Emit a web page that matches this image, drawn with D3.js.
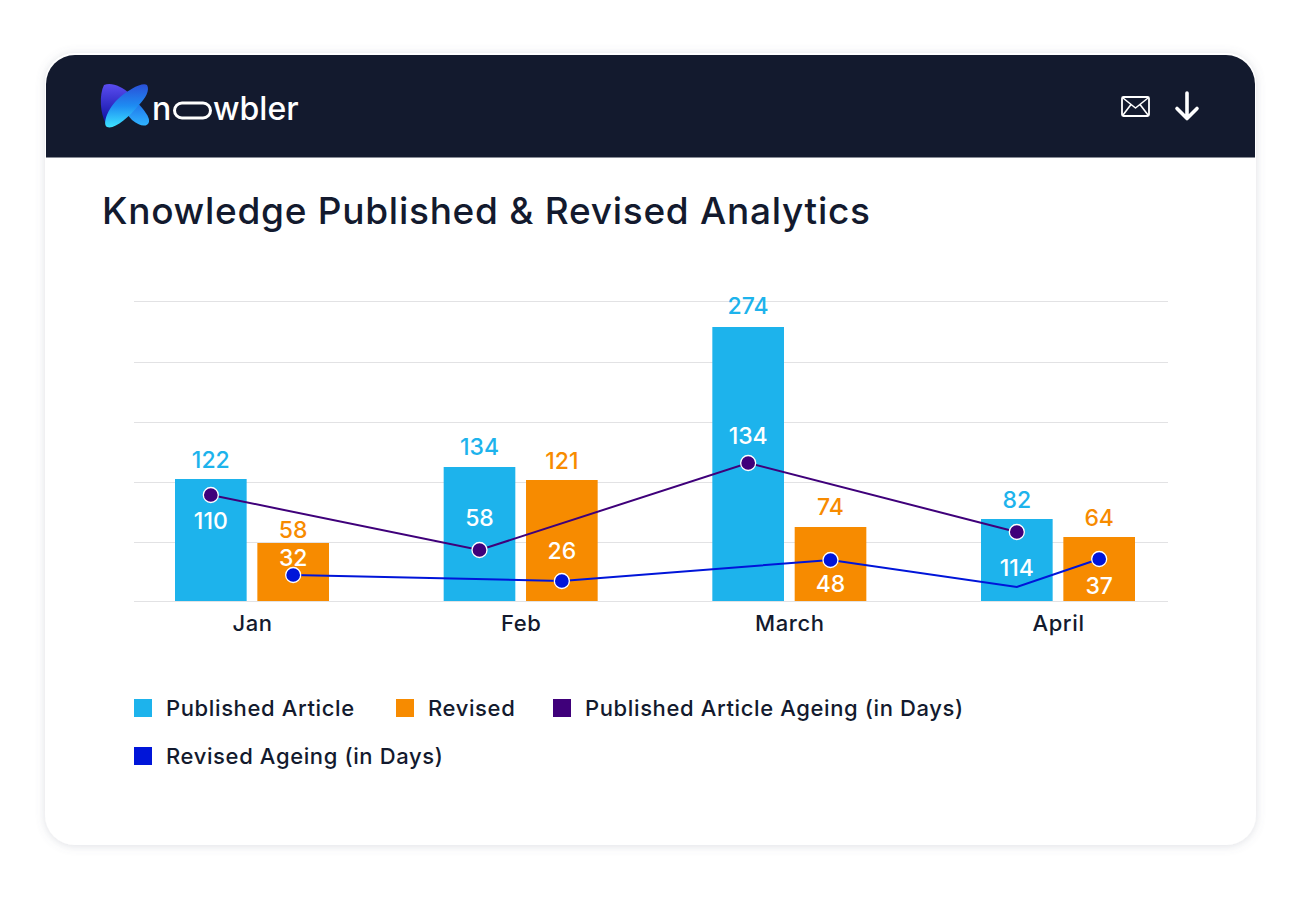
<!DOCTYPE html>
<html>
<head>
<meta charset="utf-8">
<title>Knowledge Published &amp; Revised Analytics</title>
<script src="https://cdn.jsdelivr.net/npm/d3@7"></script>
<style>
	html, body { margin: 0; padding: 0; background: #fff; }
	svg { display: block; }
	text { font-family: Inter, "Open Sans", sans-serif; }
</style>
</head>
<body>
<svg id="chart" width="1300" height="900"></svg>
<script>
var months = ["Jan", "Feb", "March", "April"];
var series = ["Published Article", "Revised"];
var published = [122, 134, 274, 82];
var revised = [58, 121, 74, 64];

// The printed ageing labels do not agree with where the points sit, so both are kept
var publishedAgeingLabels = [110, 58, 134, 114];
var publishedAgeingPoints = [106, 51, 138, 69];
var revisedAgeingLabels = [32, 26, 48, 37];
var revisedAgeingPoints = [26, 20, 41, 42];

// The blue line has one extra unmarked vertex, over the April published bar
var revisedTraceMonths = ["Jan", "Feb", "March", "April", "April"];
var revisedTraceSeries = ["Revised", "Revised", "Revised", "Published Article", "Revised"];
var revisedTraceValues = [26, 20, 41, 14, 42];

var gridTicks = [0, 59, 119, 179, 239, 300];
var legendNames = ["Published Article", "Revised", "Published Article Ageing (in Days)", "Revised Ageing (in Days)"];

var BLUE = "#1db3ec";
var ORANGE = "#f78b00";
var PURPLE = "#3f007a";
var ROYAL = "#0015d9";
var INK = "#131a2e";

// Label offsets from the ageing points, above or below
var publishedShift = [26, -32, -27, 36];
var revisedShift = [-17, -30, 24, 27];

// Gap between a bar top and the baseline of its value
var publishedGap = [11.5, 12.5, 13, 11.5];
var revisedGap = [5.5, 11.5, 12.5, 11.5];

var svg = d3.select("#chart");
var defs = svg.append("defs");

var shadow = defs.append("filter").attr("id", "cardShadow").attr("x", "-5%").attr("y", "-5%").attr("width", "110%").attr("height", "110%");
shadow.append("feDropShadow").attr("dx", 0).attr("dy", 1).attr("stdDeviation", 5).attr("flood-color", "#6a6f85").attr("flood-opacity", 0.22);

defs.append("clipPath").attr("id", "cardClip").append("rect")
	.attr("x", 46).attr("y", 55).attr("width", 1209).attr("height", 790).attr("rx", 29);

function gradient(id, stops) {
	var g = defs.append("linearGradient").attr("id", id).attr("x1", 0).attr("y1", 0).attr("x2", 0).attr("y2", 1);
	stops.forEach(function(s) {
		g.append("stop").attr("offset", s[0]).attr("stop-color", s[1]);
	});
}
gradient("lobeLeft", [[0, "#5a4cf0"], [1, "#0a0f9e"]]);
gradient("lobeRight", [[0, "#1f6fe8"], [1, "#2fb4ff"]]);
gradient("petalFront", [[0, "#2a50d8"], [0.5, "#1e8cf2"], [1, "#3de4ff"]]);

// Card and header
svg.append("rect")
	.attr("x", 45).attr("y", 53).attr("width", 1211).attr("height", 792).attr("rx", 30)
	.attr("fill", "#fff").attr("filter", "url(#cardShadow)");
svg.append("g").attr("clip-path", "url(#cardClip)").append("rect")
	.attr("x", 46).attr("y", 55).attr("width", 1209).attr("height", 102.5).attr("fill", INK);

// Logo
var logo = svg.append("g");
logo.append("path")
	.attr("d", "M104 85 C112 82 122 87 129 93 L106 124 C100 113 99 95 104 85Z")
	.attr("fill", "url(#lobeLeft)");
logo.append("path")
	.attr("d", "M125 112 L137 102 C144 110 150 117 149 122 C147 128 139 126 132 120Z")
	.attr("fill", "url(#lobeRight)");
logo.append("path")
	.attr("d", "M147 85 C150 90 146 98 138 106 C128 118 114 130 107 127 C102 124 108 108 118 99 C128 90 142 82 147 85Z")
	.attr("fill", "url(#petalFront)");

// Wordmark: the "o" is a long pill in the logo, so the glyph only holds its place in the text
var word = logo.append("text")
	.attr("y", 119.5)
	.attr("font-size", 32).attr("font-weight", 500).attr("fill", "#fff");
word.append("tspan").attr("x", 152).text("n");
word.append("tspan").attr("fill-opacity", 0).text("o");
word.append("tspan").attr("x", 213).text("wbler");
logo.append("rect")
	.attr("x", 174.5).attr("y", 103).attr("width", 36).attr("height", 15).attr("rx", 7.5)
	.attr("fill", "none").attr("stroke", "#fff").attr("stroke-width", 3);

// Header icons
var icons = svg.append("g").attr("fill", "none").attr("stroke", "#fff").attr("stroke-linejoin", "round").attr("stroke-linecap", "round");
icons.append("rect").attr("x", 1122).attr("y", 97).attr("width", 27).attr("height", 19).attr("rx", 1.5).attr("stroke-width", 1.8);
icons.append("path").attr("d", "M1123 98 L1135.5 108 L1148 98 M1123 115 L1131 104.5 M1148 115 L1140 104.5").attr("stroke-width", 1.6);
icons.append("path").attr("d", "M1187 93 V118.5 M1177 108.5 L1187 118.5 L1197 108.5").attr("stroke-width", 3.6);

// Title
svg.append("text")
	.attr("x", 102).attr("y", 224)
	.attr("font-size", 37).attr("font-weight", 500).attr("fill", INK)
	.attr("textLength", 768).attr("lengthAdjust", "spacing")
	.text("Knowledge Published & Revised Analytics");

// Scales
var y = d3.scaleLinear().domain([0, 300]).range([601, 301]);
var x = d3.scalePoint().domain(months).range([252, 1058]);
var xInner = d3.scaleBand().domain(series).range([-77, 77]).paddingInner(10 / 77);

function barCentre(month, name) {
	return x(month) + xInner(name) + xInner.bandwidth() / 2;
}

// Grid
var grid = svg.append("g")
	.attr("transform", "translate(134,0)")
	.call(d3.axisLeft(y).tickValues(gridTicks).tickSize(-1034).tickFormat(""));
grid.select(".domain").remove();
grid.selectAll("line").attr("stroke", "#e2e2e4").attr("stroke-width", 1.2);

// Month labels
var xAxis = svg.append("g")
	.attr("transform", "translate(0,601)")
	.call(d3.axisBottom(x).tickSize(0).tickPadding(14));
xAxis.select(".domain").remove();
xAxis.selectAll("text")
	.style("font-family", "Inter, sans-serif")
	.style("letter-spacing", "0.6px")
	.attr("font-size", 22).attr("font-weight", 500).attr("fill", INK);

// Bars and their value labels
var barSets = [
	{ name: series[0], values: published, gap: publishedGap, color: BLUE },
	{ name: series[1], values: revised, gap: revisedGap, color: ORANGE }
];
barSets.forEach(function(set) {
	var g = svg.append("g");
	g.selectAll("rect").data(set.values).join("rect")
		.attr("x", function(d, i) { return x(months[i]) + xInner(set.name); })
		.attr("y", function(d) { return y(d); })
		.attr("width", xInner.bandwidth())
		.attr("height", function(d) { return y(0) - y(d); })
		.attr("fill", set.color);
	g.selectAll("text").data(set.values).join("text")
		.attr("x", function(d, i) { return barCentre(months[i], set.name); })
		.attr("y", function(d, i) { return y(d) - set.gap[i]; })
		.attr("text-anchor", "middle")
		.attr("font-size", 23).attr("font-weight", 500).attr("fill", set.color)
		.text(function(d) { return d; });
});

// Ageing lines
var line = d3.line().x(function(d) { return d[0]; }).y(function(d) { return y(d[1]); });

var publishedLine = publishedAgeingPoints.map(function(v, i) {
	return [barCentre(months[i], series[0]), v];
});
var revisedLine = revisedTraceValues.map(function(v, i) {
	return [barCentre(revisedTraceMonths[i], revisedTraceSeries[i]), v];
});

svg.append("path").attr("d", line(publishedLine)).attr("fill", "none").attr("stroke", PURPLE).attr("stroke-width", 2);
svg.append("path").attr("d", line(revisedLine)).attr("fill", "none").attr("stroke", ROYAL).attr("stroke-width", 2);

var ageingSets = [
	{ name: series[0], points: publishedAgeingPoints, labels: publishedAgeingLabels, shift: publishedShift, color: PURPLE },
	{ name: series[1], points: revisedAgeingPoints, labels: revisedAgeingLabels, shift: revisedShift, color: ROYAL }
];
ageingSets.forEach(function(set) {
	var g = svg.append("g");
	g.selectAll("circle").data(set.points).join("circle")
		.attr("cx", function(d, i) { return barCentre(months[i], set.name); })
		.attr("cy", function(d) { return y(d); })
		.attr("r", 7.5)
		.attr("fill", set.color).attr("stroke", "#fff").attr("stroke-width", 1.3);
	g.selectAll("text").data(set.labels).join("text")
		.attr("x", function(d, i) { return barCentre(months[i], set.name); })
		.attr("y", function(d, i) { return y(set.points[i]) + set.shift[i] + 7.5; })
		.attr("text-anchor", "middle")
		.attr("font-size", 23).attr("font-weight", 500).attr("fill", "#fff")
		.text(function(d) { return d; });
});

// Legend
var legendColors = [BLUE, ORANGE, PURPLE, ROYAL];
var legendX = [134, 396, 553, 134];
var legendY = [699, 699, 699, 747];
var legend = svg.append("g").selectAll("g").data(legendNames).join("g")
	.attr("transform", function(d, i) { return "translate(" + legendX[i] + "," + legendY[i] + ")"; });
legend.append("rect")
	.attr("width", 18).attr("height", 18)
	.attr("fill", function(d, i) { return legendColors[i]; });
legend.append("text")
	.attr("x", 32).attr("y", 16.5)
	.attr("font-size", 22).attr("font-weight", 500).attr("fill", INK)
	.style("letter-spacing", "0.62px")
	.text(function(d) { return d; });
</script>
</body>
</html>
